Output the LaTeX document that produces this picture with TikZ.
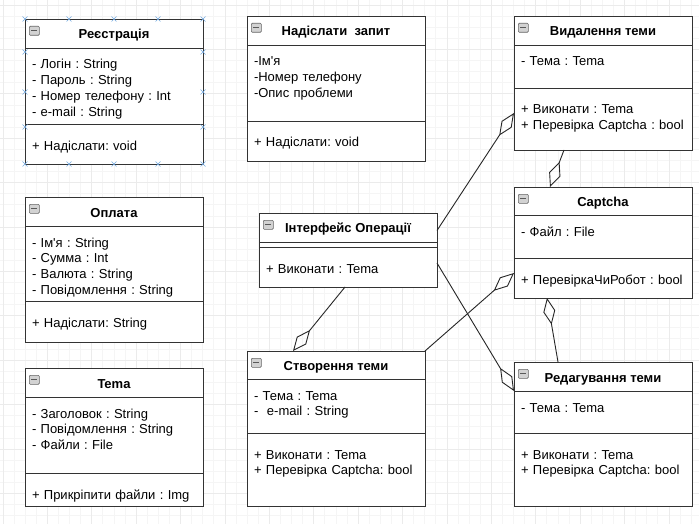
\documentclass[tikz,border=0pt]{standalone}
\usepackage{fontspec}
\setmainfont{Liberation Sans}
\usetikzlibrary{arrows.meta, positioning}
\frenchspacing

\begin{document}
\begin{tikzpicture}[
        x=1pt, y=-1pt,
        font=\fontsize{13}{15.7}\selectfont,
        line width=0.9pt,
        hdr/.style={draw=black!80, fill=white, anchor=north west, outer sep=0pt, inner sep=0pt,
            minimum width=178pt, minimum height=29pt, text height=13pt, text depth=2pt,
            font=\fontsize{13}{15.7}\selectfont\bfseries},
        sec/.style={draw=black!80, fill=white, anchor=north, outer sep=0pt, text width=164pt,
            align=left, inner xsep=7pt, inner ysep=0pt},
        attr/.style={sec, text height=21pt, text depth=#1},
        meth/.style={sec, text height=26pt, text depth=#1},
        tog/.style={draw=gray!80!black, fill=gray!35, anchor=north west, inner sep=0pt,
            minimum width=10pt, minimum height=9pt, rounded corners=1pt, line width=0.6pt,
            path picture={\draw[black!65, line width=1.3pt]
                ([xshift=2pt]path picture bounding box.west) -- ([xshift=-2pt]path picture bounding box.east);}},
        agg/.style={draw=black!85, -{Diamond[open, length=27pt, width=12pt]}},
        gridminor/.style={draw=gray!8, line width=0.5pt},
        gridmajor/.style={draw=gray!16, line width=0.5pt},
        hdl/.style={draw=cyan!60!blue!55, line width=0.6pt}
    ]
        \useasboundingbox (0,0) rectangle (699,524);
        % background grid
        \fill[white] (0,0) rectangle (699,524);
        \draw[gridminor, xshift=2.8pt, yshift=-4.9pt, step=11.1pt] (-2.8,-4.9) grid (699,524);
        \draw[gridmajor, xshift=2.8pt, yshift=-4.9pt, step=44.4pt] (-2.8,-4.9) grid (699,524);

        %=================== left column ===================
        \node[hdr] (reg-h) at (25,19) {Реєстрація};
        \node[attr=55pt, below=0pt of reg-h] (reg-a) {- Логін : String\\- Пароль : String\\- Номер телефону : Int\\- e-mail : String};
        \node[meth=14pt, below=0pt of reg-a] (reg-m) {+ Надіслати: void};
        \node[tog] (reg-t) at ([shift={(4,7)}]reg-h.north west) {};

        \node[hdr] (pay-h) at (25,197) {Оплата};
        \node[attr=54pt, below=0pt of pay-h] (pay-a) {- Ім\textquotesingle я : String\\- Сумма : Int\\- Валюта : String\\- Повідомлення : String};
        \node[meth=15pt, below=0pt of pay-a] (pay-m) {+ Надіслати: String};
        \node[tog] (pay-t) at ([shift={(4,7)}]pay-h.north west) {};

        \node[hdr] (top-h) at (25,368) {Tema};
        \node[attr=55pt, below=0pt of top-h] (top-a) {- Заголовок : String\\- Повідомлення : String\\- Файли : File};
        \node[meth=7pt, below=0pt of top-a] (top-m) {+ Прикріпити файли : Img};
        \node[tog] (top-t) at ([shift={(4,7)}]top-h.north west) {};

        %=================== middle column ===================
        \node[hdr] (req-h) at (247,16) {Надіслати~~запит};
        \node[attr=55pt, below=0pt of req-h] (req-a) {-Ім\textquotesingle я\\-Номер телефону\\-Опис проблеми};
        \node[meth=14pt, below=0pt of req-a] (req-m) {+ Надіслати: void};
        \node[tog] (req-t) at ([shift={(4,7)}]req-h.north west) {};

        \node[hdr] (op-h) at (259,213) {Інтерфейс Операції};
        \node[sec, text height=0pt, text depth=5pt, below=0pt of op-h] (op-a) {};
        \node[meth=14pt, below=0pt of op-a] (op-m) {+ Виконати : Tema};
        \node[tog] (op-t) at ([shift={(4,7)}]op-h.north west) {};

        \node[hdr, minimum height=28pt] (cre-h) at (247,351) {Створення теми};
        \node[attr=33pt, below=0pt of cre-h] (cre-a) {- Тема : Tema\\-~~e-mail : String};
        \node[meth=47pt, below=0pt of cre-a] (cre-m) {+ Виконати : Tema\\+ Перевірка Captcha: bool};
        \node[tog] (cre-t) at ([shift={(4,7)}]cre-h.north west) {};

        %=================== right column ===================
        \node[hdr] (del-h) at (514,16) {Видалення теми};
        \node[attr=22pt, below=0pt of del-h] (del-a) {- Тема : Tema};
        \node[meth=36pt, below=0pt of del-a] (del-m) {+ Виконати : Tema\\+ Перевірка Captcha : bool};
        \node[tog] (del-t) at ([shift={(4,7)}]del-h.north west) {};

        \node[hdr, minimum height=28pt] (cap-h) at (514,187) {Captcha};
        \node[attr=22pt, below=0pt of cap-h] (cap-a) {- Файл : File};
        \node[meth=14pt, below=0pt of cap-a] (cap-m) {+ ПеревіркаЧиРобот : bool};
        \node[tog] (cap-t) at ([shift={(4,7)}]cap-h.north west) {};

        \node[hdr] (red-h) at (514,362) {Редагування теми};
        \node[attr=21pt, below=0pt of red-h] (red-a) {- Тема : Tema};
        \node[meth=47pt, below=0pt of red-a] (red-m) {+ Виконати : Tema\\+ Перевірка Captcha: bool};
        \node[tog] (red-t) at ([shift={(4,7)}]red-h.north west) {};

        %=================== aggregations ===================
        \draw[agg] ([yshift=-3pt]op-h.east) -- ([yshift=6pt]del-m.west);
        \draw[agg] ([xshift=-3pt]op-m.south) -- ([xshift=46pt]cre-h.north west);
        \draw[agg] ([yshift=4pt]op-m.east) -- (red-h.south west);
        \draw[agg] (cre-h.north east) -- ([yshift=5pt]cap-m.west);
        \draw[agg] ([xshift=44pt]red-h.north west) -- ([xshift=33pt]cap-m.south west);
        \draw[agg] ([xshift=50pt]del-m.south west) -- ([xshift=36pt]cap-h.north west);

        % selection handles
        \foreach \hx in {25,69,114,158,203}
            \foreach \hy in {19,164}
                \draw[hdl] (\hx-2.5,\hy-2.5) -- (\hx+2.5,\hy+2.5) (\hx-2.5,\hy+2.5) -- (\hx+2.5,\hy-2.5);
        \foreach \hx in {25,203}
            \foreach \hy in {52,92,127}
                \draw[hdl] (\hx-2.5,\hy-2.5) -- (\hx+2.5,\hy+2.5) (\hx-2.5,\hy+2.5) -- (\hx+2.5,\hy-2.5);
    \end{tikzpicture}
\end{document}
